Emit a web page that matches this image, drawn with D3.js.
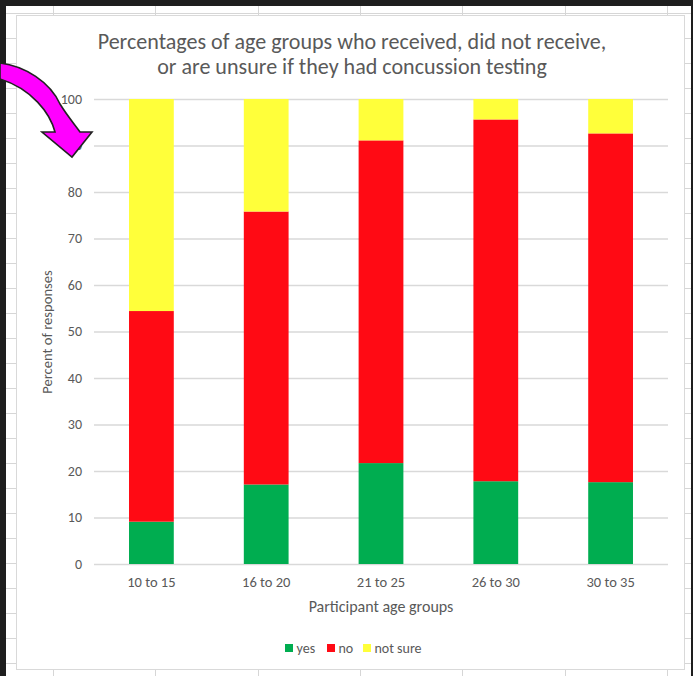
<!DOCTYPE html>
<html>
<head>
<meta charset="utf-8">
<script src="https://cdn.jsdelivr.net/npm/d3@7"></script>
<style>
  html, body { margin: 0; padding: 0; background: #fff; }
  svg { display: block; }
  text { font-family: Carlito, Lato, "Open Sans", sans-serif; }
</style>
</head>
<body>
<svg id="chart" width="693" height="676"></svg>
<script>
const categories = ["10 to 15", "16 to 20", "21 to 25", "26 to 30", "30 to 35"];
const seriesNames = ["yes", "no", "not sure"];
const yesValues = [9.1, 17.1, 21.7, 17.8, 17.6];
const noValues = [45.3, 58.7, 69.4, 77.8, 75.0];
const notSureValues = [45.6, 24.2, 8.9, 4.4, 7.4];
const yTicks = [0, 10, 20, 30, 40, 50, 60, 70, 80, 90, 100];
const titleLines = ["Percentages of age groups who received, did not receive,",
                    "or are unsure if they had concussion testing"];
const xTitle = "Participant age groups";
const yTitle = "Percent of responses";

const colors = { "yes": "#00ad50", "no": "#ff0a14", "not sure": "#ffff3a" };
const textColor = "#595959";
const gridColor = "#d9d9d9";

const svg = d3.select("#chart");
const W = 693, H = 676;

// spreadsheet background
svg.append("rect").attr("width", W).attr("height", H).attr("fill", "#ffffff");
const bg = svg.append("g").attr("stroke", "#d6d6d6").attr("stroke-width", 1);
for (let x = 53; x < W; x += 102.3) {
  bg.append("line").attr("x1", Math.round(x) + 0.5).attr("x2", Math.round(x) + 0.5).attr("y1", 0).attr("y2", H);
}
for (let y = 13; y < H; y += 25) {
  bg.append("line").attr("x1", 0).attr("x2", W).attr("y1", y + 0.5).attr("y2", y + 0.5);
}
// chart area
svg.append("rect").attr("x", 16.5).attr("y", 15.5).attr("width", 668).attr("height", 654)
  .attr("fill", "#ffffff").attr("stroke", "#d9d9d9").attr("stroke-width", 1);

// dark frame
svg.append("rect").attr("x", 0).attr("y", 0).attr("width", W).attr("height", 6).attr("fill", "#1e1e1e");
svg.append("rect").attr("x", 0).attr("y", 0).attr("width", 6).attr("height", H).attr("fill", "#1e1e1e");
svg.append("rect").attr("x", 691).attr("y", 0).attr("width", 2).attr("height", H).attr("fill", "#1e1e1e");

// scales
const x = d3.scaleBand().domain(categories).range([94, 668]).paddingInner(0.61).paddingOuter(0.305);
const y = d3.scaleLinear().domain([0, 100]).range([564, 99]);

// gridlines + y axis
const yAxis = svg.append("g").attr("transform", "translate(94,0)")
  .call(d3.axisLeft(y).tickValues(yTicks).tickSize(-(668 - 94)).tickPadding(12));
yAxis.select(".domain").remove();
yAxis.selectAll(".tick line").attr("stroke", gridColor).attr("stroke-width", 1.3);
yAxis.selectAll(".tick text").attr("fill", textColor).attr("font-size", 14)
  .style("font-family", "Carlito, Lato, 'Open Sans', sans-serif");

// stacked bars
const rows = categories.map((c, i) => ({ cat: c, "yes": yesValues[i], "no": noValues[i], "not sure": notSureValues[i] }));
const stacked = d3.stack().keys(seriesNames)(rows);
svg.append("g").selectAll("g").data(stacked).join("g")
  .attr("fill", d => colors[d.key])
  .selectAll("rect").data(d => d).join("rect")
  .attr("x", d => x(d.data.cat))
  .attr("width", x.bandwidth())
  .attr("y", d => y(d[1]))
  .attr("height", d => y(d[0]) - y(d[1]));

// x axis
const xAxis = svg.append("g").attr("transform", "translate(0,564)")
  .call(d3.axisBottom(x).tickSize(0).tickPadding(13));
xAxis.select(".domain").remove();
xAxis.selectAll(".tick text").attr("fill", textColor).attr("font-size", 14.5)
  .style("font-family", "Carlito, Lato, 'Open Sans', sans-serif");

// axis titles
svg.append("text").attr("x", 381).attr("y", 612).attr("text-anchor", "middle")
  .attr("fill", textColor).attr("font-size", 16).text(xTitle);
svg.append("text").attr("transform", "translate(52,332) rotate(-90)").attr("text-anchor", "middle")
  .attr("fill", textColor).attr("font-size", 14.6).text(yTitle);

// title
const titleG = svg.append("g");
const t1 = titleG.append("text").attr("x", 352).attr("y", 49).attr("text-anchor", "middle")
  .attr("fill", textColor).attr("font-size", 19).text(titleLines[0]);
const t2 = titleG.append("text").attr("x", 352).attr("y", 74).attr("text-anchor", "middle")
  .attr("fill", textColor).attr("font-size", 19).text(titleLines[1]);
const w1 = t1.node().getComputedTextLength();
const fs = 19 * 509 / w1;
t1.attr("font-size", fs); t2.attr("font-size", fs);

// legend
const legendItems = [{ k: "yes", x: 285 }, { k: "no", x: 327 }, { k: "not sure", x: 363 }];
const lg = svg.append("g");
legendItems.forEach(it => {
  lg.append("rect").attr("x", it.x).attr("y", 644).attr("width", 8).attr("height", 8).attr("fill", colors[it.k]);
  lg.append("text").attr("x", it.x + 11.5).attr("y", 653).attr("fill", textColor).attr("font-size", 14).text(it.k);
});

// magenta arrow (annotation)
const arrowPath = "M0,63 C25,66 50,82 60,104 C68,117 76,126 80,132 L92,132 L72,157 L42,132 L55,132 C50,113 32,89 0,79 Z";
svg.append("path").attr("d", arrowPath).attr("fill", "#ff00ff").attr("stroke", "#222").attr("stroke-width", 1.6)
  .attr("stroke-linejoin", "miter");
</script>
</body>
</html>
